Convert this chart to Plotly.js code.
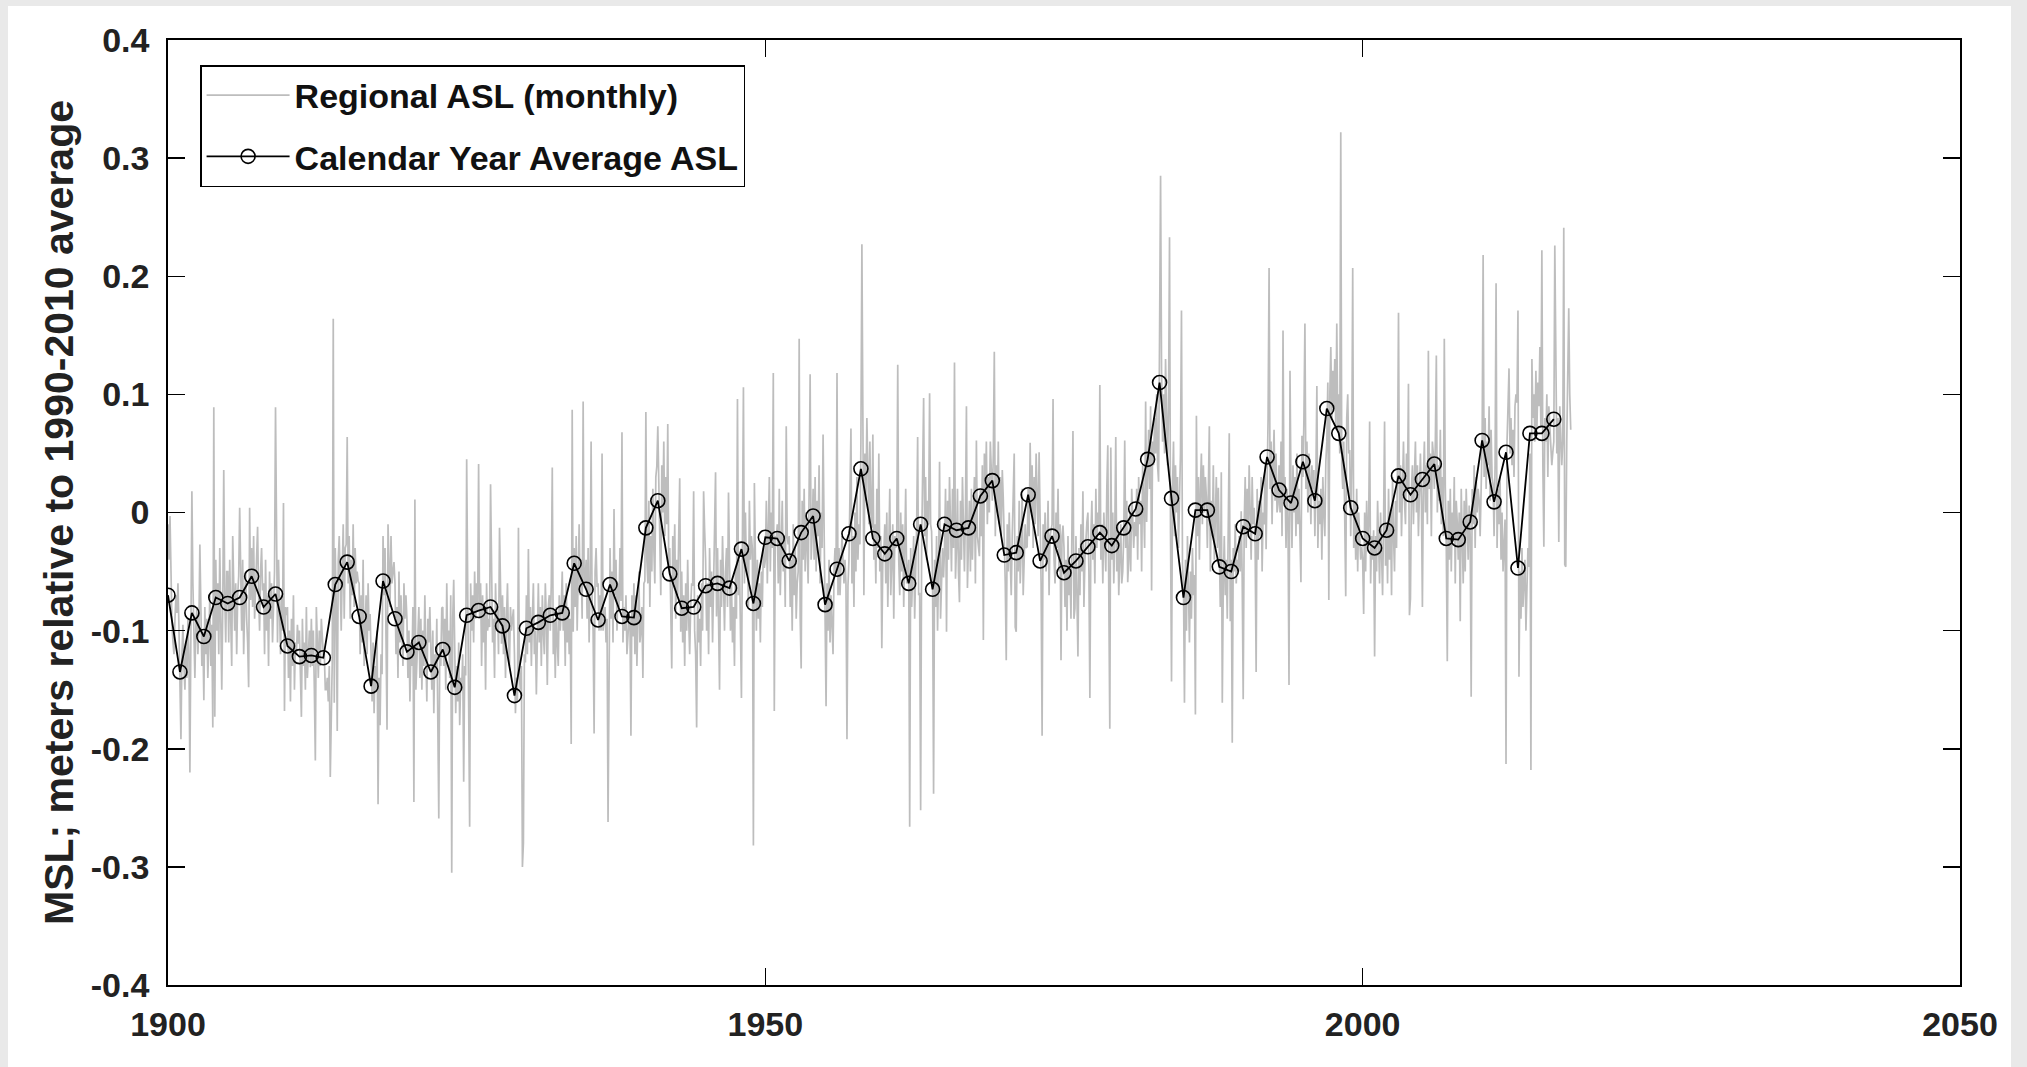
<!DOCTYPE html>
<html>
<head>
<meta charset="utf-8">
<script src="https://cdn.plot.ly/plotly-3.0.1.min.js"></script>
<style>
  html, body { margin: 0; padding: 0; width: 2027px; height: 1067px; background: #e9e9e9; overflow: hidden; }
  #chart { position: absolute; left: 8px; top: 6px; width: 2003px; height: 1061px; background: #ffffff; }
</style>
</head>
<body>
<div id="chart"></div>
<script>
// ---- DATA ----
const annualYears = [];
for (let y = 1900; y <= 2016; y++) annualYears.push(y);

// Calendar year average ASL (mm)
const annualMm = [
  -70,-135,-85,-105,-72,-77,-72,-54,-80,-69,
  -113,-122,-121,-123,-61,-42,-88,-147,-58,-90,
  -118,-110,-135,-116,-148,-87,-83,-80,-96,-155,
  -98,-93,-87,-85,-43,-65,-91,-61,-88,-89,
  -13,10,-52,-81,-80,-62,-60,-64,-31,-77,
  -21,-22,-41,-17,-3,-78,-48,-18,37,-22,
  -35,-22,-60,-10,-65,-10,-15,-13,14,27,
  -36,-34,15,-41,-20,-51,-41,-29,-17,-28,
  -13,3,45,110,12,-72,2,2,-46,-50,
  -12,-18,47,19,8,43,10,88,67,4,
  -22,-30,-15,31,15,28,41,-22,-23,-8,
  61,9,51,-47,67,67,79
];

// Regional ASL monthly (mm, estimated from chart), starting January 1900
const monthlyStartYear = 1900;
const monthlyMm = [
  -10,-40,-3,-60,-95,-110,-120,-90,-70,-85,-60,-97,
  -160,-192,-120,-95,-130,-150,-110,-140,-90,-120,-220,-93,
  18,-60,-110,-140,-95,-80,-120,-100,-27,-75,-130,-101,
  -159,-80,-120,-90,-140,-110,-70,-130,-95,-182,89,-173,
  -40,-100,-60,-120,-30,-90,-150,-80,36,-70,-110,-50,
  -50,-110,-40,-90,-130,-20,-80,-100,-60,-120,-70,-54,
  4,-60,-100,-40,-120,-80,-50,-90,-110,-148,4,-74,
  -30,-80,-20,-90,-60,-40,-12,-70,-100,-50,-30,-66,
  -60,-120,-40,-100,-70,-130,-50,-90,-60,-110,-80,-50,
  89,-60,-110,-40,-90,-120,-70,-100,8,-168,-80,-87,
  -80,-140,-100,-160,-90,-130,-70,-150,-110,-120,-95,-111,
  -100,-140,-173,-90,-130,-110,-150,-80,-140,-120,-100,-131,
  -90,-130,-100,-150,-210,-80,-120,-140,-100,-130,-90,-112,
  -120,-120,-150,-150,-140,-160,-130,-224,-160,-125,164,-161,
  -30,-80,-185,-40,-20,-70,-100,-50,-10,-90,-30,-27,
  64,-60,-20,-90,-40,-70,-10,-80,-30,-60,-50,-58,
  -60,-120,-70,-110,-40,-130,-90,-70,-120,-60,-100,-86,
  -120,-160,-110,-170,-130,-150,-100,-247,-140,-180,-120,-137,
  -20,-70,-30,-90,-184,-10,-40,-80,-20,-60,-50,-42,
  -60,-120,-80,-140,-50,-110,-70,-100,-130,-60,-90,-70,
  -90,-140,-100,-160,-110,-130,-80,-245,11,-150,-120,-102,
  -80,-140,-90,-150,-100,-130,-70,-120,-160,-90,-110,-80,
  -110,-150,-100,-170,-120,-140,-90,-160,-259,-110,-130,-81,
  -80,-130,-90,-150,-60,-120,-100,-140,-70,-305,-90,-57,
  -120,-170,-130,-160,-110,-180,-140,-150,-120,-228,-130,-138,
  45,-80,-120,-266,-60,-100,-70,-110,-50,-90,-60,-83,
  41,-90,-60,-130,-70,-110,-80,-150,-60,-100,-90,-97,
  24,-70,-110,-90,-140,-60,-100,-80,-120,-13,-90,-111,
  -70,-120,-80,-140,-90,-60,-110,-130,-80,-100,-90,-82,
  -120,-170,-140,-160,-13,-140,-150,-130,-300,-280,-120,-127,
  -70,-120,-31,-110,-80,-130,-90,-60,-120,-100,-154,-111,
  -60,-110,-80,-130,-70,-100,-120,-60,-90,-146,-80,-70,
  -100,-60,38,-120,-90,-140,-80,-110,-130,-70,-100,-82,
  -50,-100,-70,-130,-60,-110,-80,-120,-90,-196,87,-101,
  -30,-80,-20,-100,-50,-10,-70,-40,-90,94,-60,-60,
  -40,-90,-30,-110,-60,60,-80,-100,-187,-50,-30,-63,
  -60,-100,-70,-100,50,-100,-90,-80,-110,-90,-262,-80,
  -30,-90,-50,-110,3,-70,-40,-100,-60,-80,-30,-75,
  68,-110,-80,-100,-70,-120,-100,-90,-90,-189,-70,-105,
  -60,-120,-70,-130,-90,-50,-110,-100,-80,-140,-60,-58,
  85,-40,-60,10,-80,-20,-50,20,-30,-60,30,39,
  73,20,-30,-70,40,0,60,-20,30,-10,75,-48,
  -30,-80,-132,-20,-60,-10,-90,-40,-70,-20,29,-101,
  -50,-110,-70,-130,-60,-100,-40,-90,-120,-80,-60,-62,
  18,-100,-120,-182,-70,-110,-90,-130,-60,-100,18,-14,
  -40,-100,-60,-120,-30,-80,-50,-110,-70,-30,34,-88,
  -30,-90,-150,-40,-80,-20,-70,-100,-50,-30,-80,17,
  -40,-100,-60,-110,-80,-130,-50,-90,96,-70,-40,-94,
  -157,-20,106,-60,0,-50,-30,-80,10,-40,-20,-31,
  -282,25,-60,-100,-40,-90,-60,-110,-50,-80,-30,-47,
  -40,10,-60,-20,30,-50,0,-30,118,-168,-20,-22,
  -10,-60,20,-70,-30,10,-50,-20,-80,73,-20,-27,
  -20,-80,-40,-100,-10,-70,-30,-90,-60,-50,147,-89,
  -132,10,-40,20,-50,0,-30,-60,20,117,-40,-19,
  20,-40,30,-50,10,-20,40,-60,0,-30,66,-2,
  -50,-164,-60,-100,-40,-110,-70,-90,-120,-50,-30,-52,
  118,-70,-30,-70,-50,-20,-40,-60,-40,-60,-192,-62,
  -40,10,71,-60,-20,-80,0,-50,30,-40,-10,-27,
  60,227,20,-70,50,10,80,30,-10,60,0,-13,
  66,-40,-10,-60,20,-30,50,-50,-20,-115,-40,-35,
  -10,-60,0,-80,-30,20,-70,-40,-10,-90,-20,-30,
  -20,125,-40,-70,0,-50,-10,-80,-30,20,-60,-49,
  -40,-266,-30,-80,-50,-20,-90,-60,-10,64,-70,-68,
  -252,-30,20,97,-20,30,-40,10,-10,101,-10,-16,
  -60,-238,-40,-80,-20,-100,-50,43,-90,-60,-30,-55,
  -30,20,-101,10,-40,30,-20,-50,20,-30,127,-56,
  -30,20,-50,-76,10,-40,30,-20,-50,0,90,-64,
  -30,10,-50,20,-40,-10,30,-60,61,-20,-30,-37,
  20,-20,40,-108,50,10,60,-10,30,0,60,36,
  10,50,136,-20,40,0,60,-10,30,-20,36,12,
  -20,-60,-125,-10,-50,0,-40,-70,-20,10,50,-97,
  -101,-20,-50,10,-60,-30,20,-70,-40,-10,-30,-29,
  20,-20,59,0,40,-30,30,-10,50,10,-20,51,
  -20,-60,-189,-10,-40,0,-50,-30,10,-70,-20,-13,
  -10,96,-40,-60,0,-30,20,-50,-10,-125,-20,-11,
  -30,-80,-40,-100,-20,-70,-50,-90,-10,69,-90,-81,
  -20,-60,-122,-30,-70,-10,-50,18,-80,-40,-20,-8,
  0,-50,-157,-20,10,-40,-10,-60,20,-30,0,-11,
  108,-40,-10,-60,0,-30,-50,20,57,-70,-183,55,
  -40,0,-60,-20,64,-50,-10,-70,-30,-10,-60,-50,
  -20,61,-30,10,-59,-40,0,-50,20,-10,-30,-8,
  -20,20,-40,30,-10,10,-50,40,0,-30,94,-8,
  30,70,20,90,-66,60,40,80,50,100,40,26,
  150,285,120,60,100,50,130,80,40,90,233,-18,
  -143,20,60,-20,40,0,30,-30,10,50,171,-44,
  -60,-161,-40,-100,-20,-80,-110,-50,-90,-30,-70,-53,
  -171,82,-20,30,-40,20,50,-10,40,0,30,13,
  -30,20,73,-50,10,-20,40,-40,0,30,-30,21,
  -30,-80,34,-161,-60,-20,-70,-40,-90,-10,67,-92,
  -40,-195,-30,-50,-10,-60,-40,-50,-20,-50,1,-56,
  -158,-10,30,-30,20,-20,40,0,-40,30,-10,4,
  -30,-135,20,-40,10,-20,30,-50,0,-10,40,-31,
  30,80,207,20,60,-10,40,70,10,50,0,7,
  40,0,60,-20,154,10,30,-30,20,-10,-146,120,
  20,-30,40,0,30,-20,50,-10,20,-10,-59,65,
  30,80,160,20,60,0,50,30,-10,40,20,36,
  -20,30,107,-30,10,-10,20,-40,30,0,-20,43,
  60,110,-74,100,140,80,120,90,130,70,160,70,
  100,50,322,40,20,60,0,-71,80,100,50,53,
  -20,40,207,-30,10,-40,20,-50,0,-20,-40,-29,
  -40,-86,0,-50,10,-30,-10,77,-60,-20,-40,-15,
  -122,-20,-50,10,-40,-60,0,-30,-70,-10,77,-45,
  -10,-60,20,-40,0,-70,30,-20,-50,10,-30,40,
  169,0,40,-20,30,60,10,-10,50,20,109,-87,
  -73,20,40,-10,30,60,0,40,-20,30,50,13,
  -80,30,60,0,40,-10,137,20,50,-20,60,49,
  20,60,133,0,40,10,70,-10,30,-20,147,22,
  -30,-126,10,-40,20,-50,0,-20,30,-60,10,-8,
  -40,0,-92,20,-30,-60,10,-50,20,-20,-40,6,
  -20,-156,20,-10,40,-30,30,0,20,10,-20,20,
  60,218,30,80,20,60,40,90,10,70,30,24,
  -20,40,194,-30,20,-10,30,-40,0,-50,-20,-6,
  -213,60,90,122,50,80,40,70,30,90,100,93,
  171,-139,-50,-90,-30,-80,-60,-40,-100,-70,-30,-46,
  50,-218,130,80,100,60,120,70,110,90,140,72,
  222,40,-29,80,60,100,30,90,70,50,40,51,
  60,226,100,50,80,-25,90,70,40,60,241,-44,
  -46,60,120,173,100,70
];

const xTickVals = [1900, 1950, 2000, 2050];
const xTickText = ['1900', '1950', '2000', '2050'];
const yTickVals = [-0.4, -0.3, -0.2, -0.1, 0, 0.1, 0.2, 0.3, 0.4];
const yTickText = ['-0.4', '-0.3', '-0.2', '-0.1', '0', '0.1', '0.2', '0.3', '0.4'];

const seriesNames = ['Regional ASL (monthly)', 'Calendar Year Average ASL'];
const yTitle = 'MSL; meters relative to 1990-2010 average';

// ---- BUILD ----
const monthlyX = monthlyMm.map((v, i) => monthlyStartYear + i / 12);
const monthlyY = monthlyMm.map(v => v / 1000);
const annualY = annualMm.map(v => v / 1000);

const FONT = 'Liberation Sans, Arial, Helvetica, sans-serif';

const traces = [
  {
    x: monthlyX, y: monthlyY, type: 'scatter', mode: 'lines',
    name: seriesNames[0], legendgroup: 'a',
    line: { color: '#bdbdbd', width: 1.7 },
    hoverinfo: 'skip'
  },
  {
    x: annualYears, y: annualY, type: 'scatter', mode: 'lines+markers',
    name: seriesNames[1], legendgroup: 'b',
    line: { color: '#000000', width: 1.8 },
    marker: { symbol: 'circle-open', size: 14, color: '#000000', line: { width: 1.6, color: '#000000' } }
  }
];

const axisCommon = {
  showgrid: false, zeroline: false,
  showline: true, linecolor: '#000000', linewidth: 1.8,
  mirror: 'ticks', ticks: 'inside', ticklen: 17, tickwidth: 1.5, tickcolor: '#000000',
  tickfont: { family: FONT, size: 34, color: '#222222', weight: 'bold' },
  tickmode: 'array'
};

const layout = {
  width: 2003, height: 1061,
  paper_bgcolor: '#ffffff', plot_bgcolor: '#ffffff',
  margin: { l: 160, r: 51, t: 34, b: 82 },
  showlegend: true,
  xaxis: Object.assign({}, axisCommon, {
    range: [1900, 2050], tickvals: xTickVals, ticktext: xTickText,
    ticklabelstandoff: 8
  }),
  yaxis: Object.assign({}, axisCommon, {
    range: [-0.4, 0.4], tickvals: yTickVals, ticktext: yTickText,
    ticklabelstandoff: 10,
    title: { text: yTitle, font: { family: FONT, size: 41, color: '#222222', weight: 'bold' }, standoff: 4 }
  }),
  legend: {
    x: 0.0179, y: 0.9735, xanchor: 'left', yanchor: 'top',
    bgcolor: '#ffffff', bordercolor: '#000000', borderwidth: 1.5,
    font: { family: FONT, size: 34, color: '#111111', weight: 'bold' },
    traceorder: 'grouped', tracegroupgap: 14,
    itemwidth: 83,
    entrywidth: 488, entrywidthmode: 'pixels'
  }
};

Plotly.newPlot('chart', traces, layout, { displayModeBar: false, staticPlot: true });
</script>
</body>
</html>
